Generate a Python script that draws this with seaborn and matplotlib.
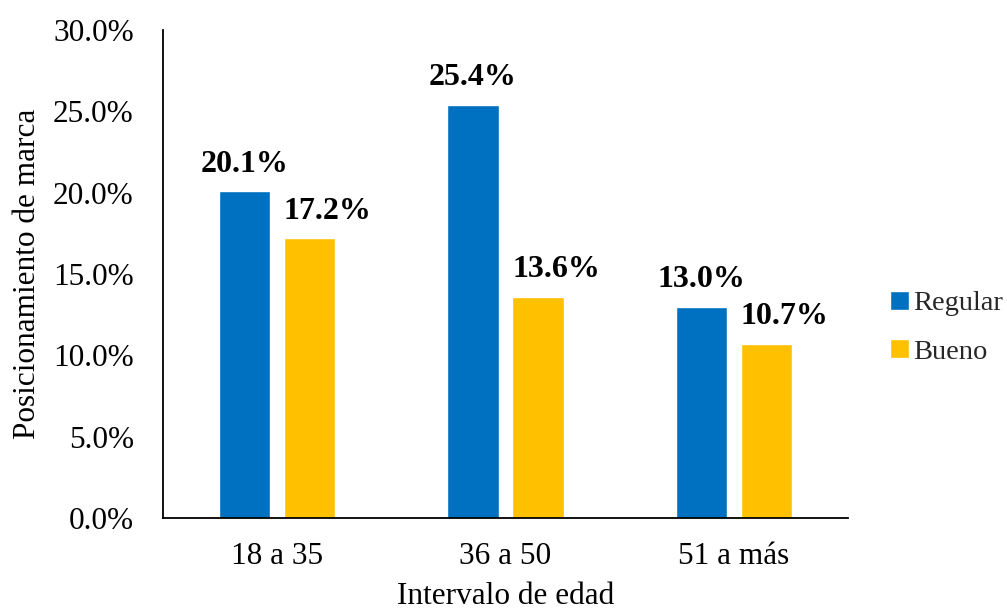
import matplotlib
matplotlib.use("Agg")
import matplotlib.pyplot as plt
import seaborn as sns
import pandas as pd
from matplotlib.ticker import FuncFormatter, MultipleLocator

# Age intervals and brand-positioning shares (%)
categories = ["18 a 35", "36 a 50", "51 a más"]
regular = [20.1, 25.4, 13.0]
bueno = [17.2, 13.6, 10.7]
series_names = ["Regular", "Bueno"]
palette = ["#0070C0", "#FFC000"]

df = pd.DataFrame({
    "Intervalo": categories * 2,
    "Serie": [series_names[0]] * 3 + [series_names[1]] * 3,
    "Valor": regular + bueno,
})

sns.set_theme(style="white")
plt.rcParams["font.family"] = ["Liberation Serif", "DejaVu Serif"]

fig = plt.figure(figsize=(10.07, 6.12), dpi=100)
ax = fig.add_axes([163 / 1007, 1 - 518 / 612, (848 - 163) / 1007, (518 - 30) / 612])

sns.barplot(data=df, x="Intervalo", y="Valor", hue="Serie", order=categories,
            hue_order=series_names, palette=palette, width=0.57, gap=0.215,
            saturation=1, ax=ax, legend=True)

# Value labels; the second series' labels sit a little to the right
for i, cont in enumerate(ax.containers):
    anns = ax.bar_label(cont, fmt="%.1f%%", padding=9, fontsize=23,
                        fontweight="bold", color="black")
    if i == 1:
        for a in anns:
            dx, dy = a.xyann
            a.xyann = (dx + 13, dy)

ax.set_ylim(0, 30)
ax.set_xlim(-0.5, 2.5)
ax.yaxis.set_major_locator(MultipleLocator(5))
ax.yaxis.set_major_formatter(FuncFormatter(lambda v, p: f"{v:.1f}%"))
ax.tick_params(axis="y", length=0, pad=21, labelsize=22.5, colors="black")
ax.tick_params(axis="x", length=0, pad=17, labelsize=22.5, colors="black")

ax.set_xlabel("Intervalo de edad", fontsize=22.5, color="black", labelpad=8)
ax.set_ylabel("Posicionamiento de marca", fontsize=22.5, color="black", labelpad=8)

for side in ["top", "right"]:
    ax.spines[side].set_visible(False)
for side in ["left", "bottom"]:
    ax.spines[side].set_visible(True)
    ax.spines[side].set_color("black")
    ax.spines[side].set_linewidth(1.3)

leg = ax.legend(loc="center left", bbox_to_anchor=(1.045, 0.39), frameon=False,
                fontsize=20.5, handlelength=0.65, handleheight=0.65, handletextpad=0.15,
                labelspacing=0.8, borderaxespad=0)

fig.savefig("out.png", dpi=100, facecolor="white")
